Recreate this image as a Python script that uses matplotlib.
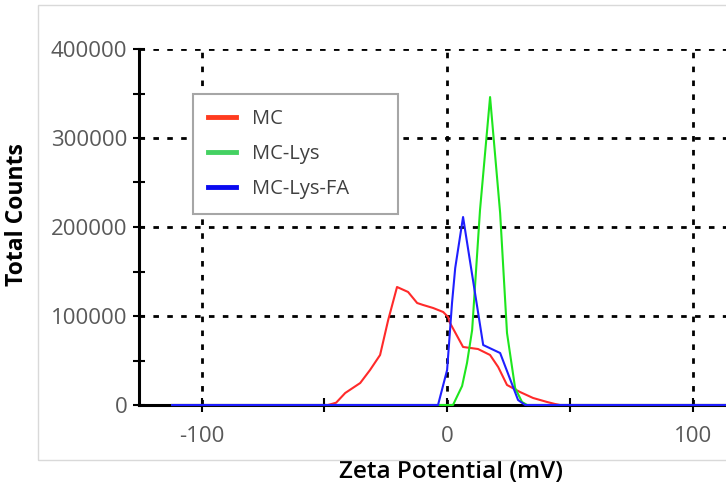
import matplotlib
matplotlib.use("Agg")
import matplotlib.pyplot as plt
from matplotlib.patches import Rectangle
from matplotlib.ticker import MultipleLocator

plt.rcParams["axes.unicode_minus"] = False

# ------------------------------------------------------------
# Zeta potential distributions (mV vs total counts)
# ------------------------------------------------------------

mc_zeta = [-112, -48.5, -45.2, -41.5, -35.4, -31.4, -27.3, -24.0, -20.4, -15.9,
           -12.2, -9.8, -5.7, -1.6, 0.4, 1.2, 6.5, 12.6, 17.5, 20.8,
           24.4, 29.7, 35.0, 40.7, 44.0, 46.0, 114]
mc_counts = [0, 0, 2600, 13500, 24700, 39300, 56200, 95500, 132600, 127000,
             114600, 112400, 109000, 104500, 98900, 92100, 65200, 62900, 56200, 42700,
             22500, 14600, 7900, 3400, 1100, 0, 0]

lys_zeta = [-112, 2.4, 6.1, 8.1, 10.2, 13.4, 17.5, 21.6, 24.4, 27.7, 30.5, 32.6, 114]
lys_counts = [0, 0, 21300, 47200, 84300, 219000, 346000, 215700, 80900, 19100, 3400, 0, 0]

fa_zeta = [-112, -3.7, 0.0, 2.0, 3.3, 6.5, 14.7, 21.6, 28.9, 31.8, 114]
fa_counts = [0, 0, 39300, 114600, 153900, 211200, 67400, 58400, 5600, 0, 0]

labels = ["MC", "MC-Lys", "MC-Lys-FA"]
line_colors = ["#ff2a2a", "#1ee61e", "#1f1fff"]
legend_colors = ["#ff3b1f", "#44d162", "#0a0af0"]

# ------------------------------------------------------------
# Figure
# ------------------------------------------------------------

fig = plt.figure(figsize=(7.26, 4.91), dpi=100)
ax = fig.add_axes([139 / 726, 86 / 491, 1 - 139 / 726, 356 / 491])

# light frame around the whole chart
fig.patches.append(Rectangle((37.5 / 726, 31 / 491), 0.99, 455 / 491,
                             transform=fig.transFigure, fill=False,
                             edgecolor="#d9d9d9", linewidth=1.0))

series = [(mc_zeta, mc_counts), (lys_zeta, lys_counts), (fa_zeta, fa_counts)]
for (xs, ys), lab, col in zip(series, labels, line_colors):
    ax.plot(xs, ys, color=col, linewidth=1.5, label=lab, clip_on=False, zorder=4)

ax.set_xlim(-125.5, 113.6)
ax.set_ylim(0, 400000)

ax.xaxis.set_major_locator(MultipleLocator(100))
ax.xaxis.set_minor_locator(MultipleLocator(50))
ax.yaxis.set_major_locator(MultipleLocator(100000))
ax.yaxis.set_minor_locator(MultipleLocator(50000))

ax.grid(True, which="major", color="black", linestyle=(0, (2, 3)), linewidth=2.0)

for side in ["top", "right"]:
    ax.spines[side].set_visible(False)
ax.spines["left"].set_linewidth(2.2)
ax.spines["bottom"].set_linewidth(2.2)

ax.tick_params(axis="both", which="both", direction="inout", width=1.5,
               colors="black", labelcolor="#595959", labelsize=16)
ax.tick_params(axis="x", which="both", length=10, pad=10)
ax.tick_params(axis="y", which="both", length=9, pad=4)

for lbl in ax.get_xticklabels() + ax.get_yticklabels():
    lbl.set_family("Open Sans")

ax.set_xlabel("Zeta Potential (mV)", fontsize=17.5, fontweight="semibold",
              family="Open Sans", color="black", va="center")
ax.xaxis.set_label_coords((451 - 139) / 587, -67 / 356)
ax.set_ylabel("Total Counts", fontsize=16.5, fontweight="bold",
              family="Open Sans", color="black", va="center")
ax.yaxis.set_label_coords(-122 / 587, (405 - 215) / 356)

# ------------------------------------------------------------
# Legend
# ------------------------------------------------------------

leg = fig.legend(loc="upper left",
                 bbox_to_anchor=(193 / 726, 1 - 221 / 491, 205 / 726, 127 / 491),
                 mode="expand", fancybox=False, framealpha=1,
                 edgecolor="#a6a6a6", handlelength=1.4, handletextpad=0.8,
                 labelspacing=0.75, borderpad=0.75, borderaxespad=0,
                 prop={"family": "Open Sans", "size": 14.5})
leg.get_frame().set_linewidth(1.5)
for text in leg.get_texts():
    text.set_color("#404040")
for line, col in zip(leg.get_lines(), legend_colors):
    line.set_color(col)
    line.set_linewidth(3.5)

fig.savefig("out.png", dpi=100)
